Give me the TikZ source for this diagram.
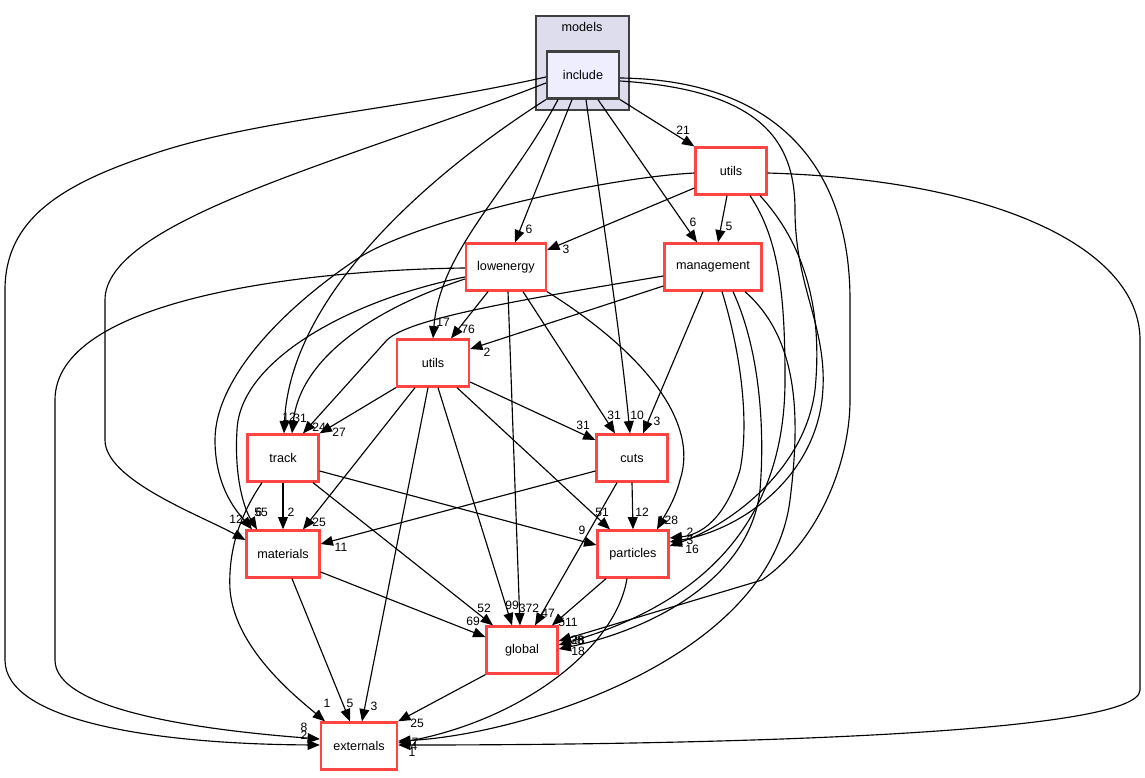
\documentclass[tikz,border=0pt]{standalone}
\usepackage{fontspec}
\setmainfont{Liberation Sans}
\usetikzlibrary{arrows.meta,calc}
\definecolor{dirred}{RGB}{255,68,68}
\definecolor{clusterfill}{RGB}{221,221,238}
\definecolor{incfill}{RGB}{238,238,255}
\definecolor{clusterline}{RGB}{64,64,64}

\begin{document}
\begin{tikzpicture}[x=0.02cm,y=-0.02cm,
    dir/.style={draw=dirred,line width=1.3pt,fill=white,minimum width=#1,minimum height=0.94cm,inner sep=0pt,font=\fontsize{7.2}{8}\selectfont},
    dep/.style={draw,line width=0.65pt,-{Triangle[length=7pt,width=5.6pt]}},
    cnt/.style={inner sep=0pt,font=\fontsize{6.9}{7}\selectfont}]
  \useasboundingbox (0,0) rectangle (1145,777);

  \draw[draw=clusterline,fill=clusterfill,line width=1.2pt] (536,16) rectangle (629,110);
  \node[font=\fontsize{7.2}{8}\selectfont] (models) at (582,27) {models};
  \node[dir=1.44cm,draw=clusterline,fill=incfill] (inc) at (583,75) {include};

  \node[dir=1.42cm] (ut1) at (731,171) {utils};
  \node[dir=1.6cm] (low) at (506,267) {lowenergy};
  \node[dir=1.94cm] (mgt) at (713,267) {management};
  \node[dir=1.44cm] (ut2) at (433,363) {utils};
  \node[dir=1.42cm] (trk) at (283,458) {track};
  \node[dir=1.42cm] (cuts) at (632,458) {cuts};
  \node[dir=1.46cm] (mat) at (283,554) {materials};
  \node[dir=1.42cm] (part) at (633,554) {particles};
  \node[dir=1.42cm] (glob) at (522,650) {global};
  \node[dir=1.52cm] (ext) at (359,746) {externals};

  % include
  \draw[dep] ($(inc.west)+(0,2)$) .. controls (400,110) and (250,120) .. (150,155)
    .. controls (60,185) and (5,220) .. (5,290) -- (5,660) .. controls (5,720) and (150,744) .. ($(ext.west)+(0,-1)$);
  \draw[dep] ($(inc.west)+(0,8)$) .. controls (350,160) and (105,220) .. (105,300) -- (105,440)
    .. controls (105,480) and (200,515) .. ($(mat.west)+(0,-14)$);
  \draw[dep] (inc.south west) .. controls (420,180) and (290,300) .. ($(trk.north)+(1,0)$);
  \draw[dep] ($(inc.south)+(-25,0)$) .. controls (510,190) and (440,250) .. (ut2.north);
  \draw[dep] ($(inc.south)+(-11,0)$) -- ($(low.north)+(9,0)$);
  \draw[dep] ($(inc.south)+(3,0)$) .. controls (600,200) and (620,330) .. ($(cuts.north)+(-2,0)$);
  \draw[dep] ($(inc.south)+(15,0)$) -- ($(mgt.north)+(-16,0)$);
  \draw[dep] (inc.south east) -- (ut1.north west);
  \draw[dep] ($(inc.east)+(0,6)$) .. controls (760,90) and (795,140) .. (795,210)
    .. controls (795,290) and (830,330) .. (822,400) .. controls (812,480) and (740,530) .. ($(part.east)+(0,-12)$);
  \draw[dep] ($(inc.east)+(0,3)$) .. controls (780,80) and (850,170) .. (850,300) -- (850,400)
    .. controls (850,460) and (820,540) .. (762,580) -- ($(glob.east)+(0,-9)$);

  % utils (top)
  \draw[dep] ($(ut1.west)+(0,17)$) -- ($(low.east)+(0,-17)$);
  \draw[dep] ($(ut1.south)+(-4,0)$) -- ($(mgt.north)+(5,0)$);
  \draw[dep] ($(ut1.west)+(0,2)$) .. controls (600,178) and (420,220) .. (360,257)
    .. controls (280,310) and (215,380) .. (215,440) .. controls (215,490) and (240,515) .. ($(mat.north)+(-31,0)$);
  \draw[dep] ($(ut1.south)+(19,0)$) .. controls (780,240) and (785,300) .. (785,380)
    .. controls (785,540) and (680,610) .. ($(glob.east)+(0,-5)$);
  \draw[dep] ($(ut1.south)+(29,0)$) .. controls (810,250) and (822,320) .. (815,390)
    .. controls (805,470) and (730,525) .. ($(part.east)+(0,-8)$);
  \draw[dep] ($(ut1.east)+(0,2)$) .. controls (1000,180) and (1140,250) .. (1140,340) -- (1140,690)
    .. controls (1140,735) and (700,745) .. ($(ext.east)+(0,-1)$);

  % lowenergy
  \draw[dep] ($(low.west)+(0,1)$) .. controls (300,270) and (55,300) .. (55,400) -- (55,660)
    .. controls (55,710) and (200,730) .. ($(ext.west)+(0,-7)$);
  \draw[dep] ($(low.west)+(0,10)$) .. controls (350,300) and (240,360) .. (237,430)
    .. controls (234,480) and (245,510) .. ($(mat.north)+(-26,0)$);
  \draw[dep] ($(low.west)+(0,12)$) .. controls (370,310) and (300,360) .. ($(trk.north)+(9,0)$);
  \draw[dep] ($(low.south)+(-18,0)$) -- ($(ut2.north)+(18,0)$);
  \draw[dep] ($(low.south)+(2,0)$) -- ($(glob.north)+(-2,0)$);
  \draw[dep] ($(low.south)+(17,0)$) -- ($(cuts.north)+(-17,0)$);
  \draw[dep] (low.south east) .. controls (640,350) and (700,420) .. (680,480)
    .. controls (675,500) and (665,515) .. ($(part.north)+(24,0)$);

  % management
  \draw[dep] ($(mgt.west)+(0,9)$) .. controls (520,300) and (410,318) .. (387,340) -- ($(trk.north)+(20,0)$);
  \draw[dep] ($(mgt.west)+(0,19)$) -- ($(ut2.east)+(0,-14)$);
  \draw[dep] ($(mgt.south)+(-10,0)$) -- ($(cuts.north)+(11,0)$);
  \draw[dep] ($(mgt.south)+(9,0)$) .. controls (740,350) and (750,420) .. (740,470)
    .. controls (725,520) and (700,535) .. ($(part.east)+(0,-16)$);
  \draw[dep] ($(mgt.south)+(20,0)$) .. controls (760,350) and (765,430) .. (760,490)
    .. controls (750,580) and (650,630) .. ($(glob.east)+(0,-1)$);
  \draw[dep] ($(mgt.south)+(32,0)$) .. controls (800,340) and (800,420) .. (790,500)
    .. controls (770,660) and (520,735) .. ($(ext.east)+(0,-5)$);

  % utils (middle)
  \draw[dep] (ut2.south west) -- (trk.north east);
  \draw[dep] ($(ut2.east)+(0,19)$) -- ($(cuts.west)+(0,-18)$);
  \draw[dep] ($(ut2.south)+(-18,0)$) -- ($(mat.north)+(20,0)$);
  \draw[dep] ($(ut2.south)+(-5,0)$) -- ($(ext.north)+(3,0)$);
  \draw[dep] ($(ut2.south)+(5,0)$) -- ($(glob.north)+(-10,0)$);
  \draw[dep] ($(ut2.south)+(24,0)$) -- ($(part.north)+(-23,0)$);

  % track, cuts, materials, particles, global
  \draw[dep] (trk.south) -- (mat.north);
  \draw[dep] ($(trk.east)+(0,13)$) -- ($(part.west)+(0,-9)$);
  \draw[dep] ($(trk.south)+(30,0)$) -- ($(glob.north)+(-29,0)$);
  \draw[dep] ($(trk.south)+(-21,0)$) .. controls (240,515) and (228,550) .. (230,590)
    .. controls (235,650) and (300,700) .. ($(ext.north)+(-34,0)$);
  \draw[dep] ($(cuts.west)+(0,13)$) -- ($(mat.east)+(0,-10)$);
  \draw[dep] (cuts.south) -- (part.north);
  \draw[dep] ($(cuts.south)+(-15,0)$) -- ($(glob.north)+(13,0)$);
  \draw[dep] ($(part.south)+(-27,0)$) -- ($(glob.north)+(30,0)$);
  \draw[dep] ($(part.south)+(-6,0)$) .. controls (615,650) and (520,720) .. ($(ext.east)+(0,-3)$);
  \draw[dep] ($(mat.east)+(0,18)$) -- ($(glob.west)+(0,-13)$);
  \draw[dep] ($(mat.south)+(9,0)$) -- ($(ext.north)+(-9,0)$);
  \draw[dep] (glob.south west) -- (ext.north east);

  \foreach \x/\y/\n [count=\i] in {304/727/8,304/735/2,236/519/12,289/417/12,300/418/31,319/427/24,
      339/432/27,443/322/17,468/329/76,487/352/2,529/229/6,566/249/3,683/130/21,693/222/6,729/226/5,
      614/415/31,637/415/10,657/421/3,583/425/31,602/512/51,642/512/12,582/530/9,668/520/128,
      690/532/2,690/540/3,692/549/16,259/512/6,261/512/55,291/512/2,319/522/25,341/547/11,
      484/608/52,473/621/69,512/605/99,529/608/372,548/613/47,568/622/511,577/640/38,578/640/28,
      578/651/18,327/703/1,350/703/5,374/706/3,417/723/25,415/742/7,414/746/4,412/752/1} {
    \node[cnt] (lab\i) at (\x,\y) {\n};
  }
\end{tikzpicture}
\end{document}
